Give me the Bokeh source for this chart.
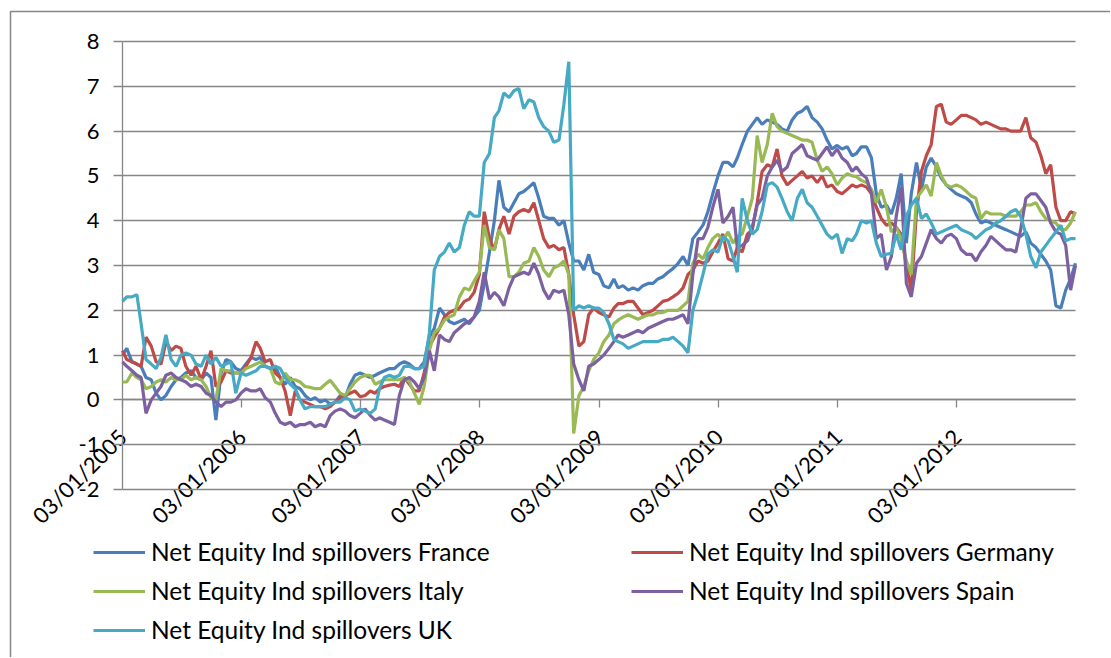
import datetime as dt
import numpy as np
from bokeh.plotting import figure
from bokeh.models import (ColumnDataSource, Range1d, FixedTicker, Legend, LegendItem,
                          BoxAnnotation)
from bokeh.embed import file_html
from bokeh.resources import INLINE

# ---------------- data (semi-monthly readings, 1st & 16th of each month) ----------------
YEARS = list(range(2005, 2013))
END_DATE = dt.datetime(2012, 12, 31)

tick_labels = ["03/01/2005", "03/01/2006", "03/01/2007", "03/01/2008",
               "03/01/2009", "03/01/2010", "03/01/2011", "03/01/2012"]
y_ticks = [-2, -1, 0, 1, 2, 3, 4, 5, 6, 7, 8]
y_tick_labels = ["-2", "-1", "0", "1", "2", "3", "4", "5", "6", "7", "8"]

series_names = ["Net Equity Ind spillovers France", "Net Equity Ind spillovers Germany",
                "Net Equity Ind spillovers Italy", "Net Equity Ind spillovers Spain",
                "Net Equity Ind spillovers UK"]

france = [
    1.0, 1.15, 0.85, 0.8, 0.75, 0.5, 0.45, 0.15, 0.0, 0.1, 0.3, 0.45, 0.5, 0.6, 0.65, 0.5, 0.45, 0.6, 0.5, -0.45, 0.6, 0.9, 0.85, 0.7,
    0.65, 0.8, 0.95, 0.9, 0.95, 0.75, 0.7, 0.75, 0.5, 0.35, 0.5, 0.3, 0.25, 0.1, 0.0, 0.05, -0.05, 0.0, -0.1, -0.05, 0.1, 0.05, 0.35, 0.55,
    0.6, 0.55, 0.5, 0.55, 0.6, 0.65, 0.7, 0.7, 0.8, 0.85, 0.8, 0.7, 0.7, 0.85, 1.4, 1.6, 2.05, 1.9, 1.75, 1.7, 1.75, 1.8, 1.7, 1.85,
    2.0, 2.6, 3.3, 4.0, 4.9, 4.3, 4.2, 4.4, 4.6, 4.65, 4.75, 4.85, 4.5, 4.1, 4.05, 4.05, 3.9, 4.0, 3.5, 3.1, 3.1, 2.9, 3.25, 2.85,
    2.8, 2.55, 2.5, 2.7, 2.5, 2.55, 2.45, 2.5, 2.45, 2.55, 2.6, 2.6, 2.7, 2.75, 2.85, 2.93, 3.05, 3.2, 3.0, 3.6, 3.75, 3.9, 4.2, 4.6,
    5.0, 5.3, 5.3, 5.2, 5.4, 5.7, 6.0, 6.15, 6.3, 6.15, 6.25, 6.2, 6.15, 6.05, 6.0, 6.25, 6.4, 6.45, 6.55, 6.3, 6.2, 6.05, 5.8, 5.6,
    5.68, 5.6, 5.65, 5.45, 5.5, 5.65, 5.65, 5.4, 4.6, 4.3, 4.35, 4.15, 4.5, 5.05, 3.5, 4.6, 5.3, 4.7, 5.2, 5.4, 5.2, 4.95, 4.8, 4.7,
    4.6, 4.55, 4.5, 4.4, 4.15, 3.95, 4.0, 3.95, 3.9, 3.85, 3.8, 3.75, 3.7, 3.65, 3.75, 3.5, 3.4, 3.25, 3.1, 2.9, 2.1, 2.05, 2.45, 2.7,
    3.05,
]

germany = [
    1.1, 0.9, 0.85, 0.8, 0.75, 1.4, 1.2, 0.85, 0.8, 1.3, 1.1, 1.2, 1.15, 0.75, 0.55, 0.75, 0.45, 0.75, 1.1, 0.3, 0.4, 0.65, 0.6, 0.6,
    0.6, 0.75, 0.95, 1.3, 1.15, 0.85, 0.9, 0.6, 0.5, 0.2, -0.35, 0.2, 0.0, -0.05, -0.1, -0.15, -0.15, -0.2, -0.15, -0.05, 0.05, 0.1, 0.15, 0.2,
    0.07, 0.1, 0.2, 0.15, 0.25, 0.3, 0.33, 0.35, 0.3, 0.5, 0.35, 0.2, 0.2, 0.6, 1.2, 1.4, 1.6, 1.85, 1.95, 2.0, 2.05, 2.2, 2.25, 2.4,
    2.8, 4.2, 3.6, 3.35, 3.8, 4.1, 3.7, 4.1, 4.2, 4.25, 4.2, 4.4, 4.0, 3.6, 3.4, 3.45, 3.35, 3.4, 2.8, 1.9, 1.2, 1.3, 1.9, 2.05,
    1.95, 1.9, 1.85, 2.05, 2.15, 2.15, 2.2, 2.2, 2.05, 1.9, 1.95, 2.0, 2.1, 2.2, 2.23, 2.3, 2.38, 2.5, 2.8, 2.9, 3.1, 3.05, 3.1, 3.3,
    3.5, 3.7, 3.15, 3.1, 3.4, 3.3, 3.7, 3.8, 4.4, 5.1, 5.25, 5.2, 5.6, 5.0, 4.8, 4.9, 5.0, 5.1, 4.95, 5.0, 4.85, 5.0, 4.75, 4.8,
    4.65, 4.6, 4.7, 4.8, 4.75, 4.8, 4.75, 4.6, 4.3, 4.05, 3.9, 3.95, 3.85, 3.7, 3.0, 2.45, 4.2, 5.1, 5.45, 5.7, 6.55, 6.6, 6.2, 6.15,
    6.25, 6.35, 6.35, 6.3, 6.25, 6.15, 6.2, 6.15, 6.1, 6.05, 6.05, 6.0, 6.0, 6.0, 6.3, 5.85, 5.75, 5.45, 5.05, 5.25, 4.3, 4.0, 4.0, 4.2,
    4.15,
]

italy = [
    0.4, 0.4, 0.6, 0.5, 0.45, 0.25, 0.3, 0.4, 0.45, 0.4, 0.5, 0.45, 0.45, 0.55, 0.45, 0.5, 0.45, 0.3, 0.05, 0.0, 0.7, 0.65, 0.65, 0.6,
    0.6, 0.7, 0.75, 0.8, 0.85, 0.75, 0.7, 0.4, 0.35, 0.6, 0.45, 0.45, 0.4, 0.3, 0.28, 0.25, 0.25, 0.35, 0.44, 0.3, 0.15, 0.1, 0.25, 0.4,
    0.5, 0.55, 0.55, 0.35, 0.4, 0.45, 0.45, 0.45, 0.45, 0.5, 0.4, 0.15, -0.1, 0.3, 1.1, 1.5, 1.6, 1.78, 1.85, 1.9, 2.3, 2.5, 2.45, 2.65,
    2.85, 3.9, 3.4, 3.35, 3.8, 3.6, 2.75, 2.75, 2.85, 3.05, 3.1, 3.4, 3.2, 2.9, 2.75, 2.95, 3.0, 3.1, 2.8, -0.75, 0.1, 0.3, 0.65, 0.9,
    1.05, 1.3, 1.45, 1.7, 1.78, 1.85, 1.9, 1.85, 1.8, 1.85, 1.9, 1.9, 1.95, 1.95, 2.0, 2.0, 2.0, 2.1, 2.2, 3.05, 3.25, 3.15, 3.4, 3.6,
    3.7, 3.55, 3.75, 3.5, 3.65, 3.7, 4.1, 4.5, 5.9, 5.3, 5.7, 6.4, 6.1, 6.0, 5.95, 5.9, 5.85, 5.8, 5.8, 5.75, 5.35, 5.1, 5.2, 5.05,
    4.8, 4.95, 5.05, 5.0, 4.98, 4.9, 4.85, 4.7, 4.4, 4.7, 4.3, 3.75, 3.85, 3.6, 3.1, 2.8, 4.5, 4.65, 4.8, 4.55, 5.3, 5.0, 4.8, 4.75,
    4.8, 4.75, 4.65, 4.55, 4.5, 4.05, 4.2, 4.15, 4.15, 4.15, 4.1, 4.1, 4.1, 4.2, 4.35, 4.35, 4.4, 4.2, 4.05, 4.0, 3.95, 3.8, 3.8, 3.95,
    4.2,
]

spain = [
    0.85, 0.75, 0.65, 0.55, 0.5, -0.3, 0.0, 0.15, 0.3, 0.55, 0.6, 0.5, 0.45, 0.4, 0.3, 0.35, 0.3, 0.15, 0.1, -0.05, -0.15, -0.05, -0.05, 0.0,
    0.15, 0.25, 0.2, 0.2, 0.25, 0.05, -0.05, -0.3, -0.5, -0.55, -0.5, -0.6, -0.55, -0.55, -0.5, -0.6, -0.55, -0.6, -0.35, -0.25, -0.2, -0.25, -0.35, -0.4,
    -0.3, -0.2, -0.35, -0.45, -0.4, -0.45, -0.5, -0.55, 0.1, 0.45, 0.5, 0.4, 0.25, 0.5, 1.1, 0.65, 1.45, 1.35, 1.3, 1.5, 1.6, 1.7, 1.75, 1.85,
    2.2, 2.85, 2.25, 2.4, 2.3, 2.1, 2.5, 2.75, 2.8, 2.85, 2.8, 3.05, 2.8, 2.45, 2.25, 2.45, 2.4, 2.45, 1.9, 0.8, 0.45, 0.2, 0.75, 0.8,
    0.9, 1.0, 1.15, 1.3, 1.45, 1.4, 1.45, 1.5, 1.55, 1.5, 1.6, 1.65, 1.7, 1.75, 1.8, 1.8, 1.85, 1.9, 1.7, 2.8, 3.6, 3.6, 3.85, 4.3,
    4.7, 3.95, 4.1, 4.3, 3.4, 3.45, 3.55, 3.85, 4.35, 4.5, 5.0, 5.2, 5.35, 5.1, 5.2, 5.5, 5.6, 5.7, 5.45, 5.4, 5.35, 5.5, 5.65, 5.45,
    5.6, 5.4, 5.3, 5.1, 5.2, 5.05, 4.95, 4.6, 3.6, 3.7, 2.9, 3.2, 4.1, 4.75, 2.6, 2.3, 3.05, 3.2, 3.5, 3.8, 3.6, 3.5, 3.65, 3.7,
    3.6, 3.35, 3.25, 3.25, 3.1, 3.3, 3.45, 3.65, 3.55, 3.45, 3.35, 3.35, 3.3, 3.8, 4.5, 4.6, 4.6, 4.45, 4.3, 3.95, 3.75, 3.7, 3.45, 2.45,
    3.0,
]

uk = [
    2.2, 2.3, 2.3, 2.35, 1.7, 0.9, 0.8, 0.7, 0.95, 1.45, 0.9, 0.75, 1.0, 1.05, 1.0, 0.8, 0.75, 1.0, 0.8, 0.95, 0.75, 0.8, 0.85, 0.15,
    0.6, 0.55, 0.6, 0.65, 0.75, 0.75, 0.7, 0.75, 0.7, 0.5, 0.35, 0.25, 0.0, -0.2, -0.15, -0.15, -0.15, -0.15, -0.1, -0.05, -0.05, 0.05, 0.0, -0.25,
    -0.2, -0.25, -0.3, -0.2, 0.25, 0.5, 0.55, 0.5, 0.55, 0.75, 0.75, 0.7, 0.7, 0.75, 1.5, 2.9, 3.2, 3.3, 3.5, 3.3, 3.4, 3.9, 4.2, 4.1,
    4.1, 5.3, 5.5, 6.3, 6.45, 6.85, 6.75, 6.9, 6.95, 6.5, 6.7, 6.65, 6.3, 6.1, 6.0, 5.75, 5.8, 6.6, 7.55, 2.0, 2.1, 2.05, 2.1, 2.05,
    2.05, 1.95, 1.7, 1.35, 1.3, 1.25, 1.15, 1.2, 1.25, 1.3, 1.3, 1.3, 1.3, 1.35, 1.35, 1.4, 1.3, 1.2, 1.05, 2.0, 2.38, 2.8, 3.25, 3.35,
    3.3, 3.65, 3.55, 3.2, 2.85, 4.5, 4.0, 3.7, 3.8, 4.2, 4.8, 4.85, 4.75, 4.5, 4.2, 4.0, 4.5, 4.7, 4.4, 4.3, 4.1, 3.9, 3.7, 3.6,
    3.7, 3.27, 3.6, 3.55, 3.7, 4.0, 3.95, 4.0, 3.5, 3.2, 3.25, 3.27, 3.7, 3.35, 4.1, 4.35, 4.5, 4.05, 4.15, 3.95, 3.7, 3.75, 3.8, 3.85,
    3.9, 3.8, 3.75, 3.7, 3.6, 3.7, 3.8, 3.85, 3.95, 4.0, 4.1, 4.2, 4.25, 4.1, 3.7, 3.2, 2.95, 3.3, 3.45, 3.6, 3.75, 3.9, 3.55, 3.6,
    3.6,
]

# observation dates: 1st and 16th of every month, first day 03/01/2005, last 31/12/2012
dates = []
for y in YEARS:
    for mth in range(1, 13):
        dates.append(dt.datetime(y, mth, 3 if (y == 2005 and mth == 1) else 1))
        dates.append(dt.datetime(y, mth, 16))
dates.append(END_DATE)

all_series = [france, germany, italy, spain, uk]
for s in all_series:
    if len(s) != len(dates):
        raise ValueError(f"length mismatch {len(s)} vs {len(dates)}")

colors = ["#4A7EBB", "#BE4B48", "#98B954", "#7D60A0", "#46AAC5"]

# ---------------- layout (pixels) ----------------
W, H = 1110, 657
PL, PR, PT, PB = 122, 1075, 41, 489          # plot area edges in the canvas
FONT = "Lato"
GRID = "#868686"
EPOCH = dt.datetime(1970, 1, 1)


def ms(d):
    return (d - EPOCH).total_seconds() * 1000.0


x0, x1 = ms(dates[0]), ms(dates[-1])
mpp = (x1 - x0) / (PR - PL)
ypp = (y_ticks[-1] - y_ticks[0]) / (PB - PT)
x_range = Range1d(x0 - PL * mpp, x1 + (W - PR) * mpp)
y_range = Range1d(y_ticks[0] - (H - PB) * ypp, y_ticks[-1] + PT * ypp)

tick_ms = [ms(dt.datetime(y, 1, 3)) for y in YEARS]

p = figure(x_axis_type="datetime", width=W, height=H, min_border=0,
           x_range=x_range, y_range=y_range,
           output_backend="svg", toolbar_location=None)
p.outline_line_color = None
p.background_fill_color = "white"
p.border_fill_color = "white"

# y axis (at the first date)
ya = p.yaxis[0]
ya.fixed_location = x0
ya.bounds = (y_ticks[0], y_ticks[-1])
ya.ticker = FixedTicker(ticks=y_ticks)
ya.major_label_overrides = {t: l for t, l in zip(y_ticks, y_tick_labels)}
ya.axis_line_color = GRID
ya.axis_line_width = 1.3
ya.major_tick_line_color = GRID
ya.major_tick_line_width = 1.3
ya.major_tick_out = 9
ya.major_tick_in = 0
ya.minor_tick_line_color = None
ya.major_label_standoff = 14
ya.major_label_text_font = FONT
ya.major_label_text_font_size = "22px"
ya.major_label_text_color = "black"
ya.level = "underlay"

# x axis crossing at 0
xa = p.xaxis[0]
xa.fixed_location = 0
xa.bounds = (x0, x1)
xa.ticker = FixedTicker(ticks=tick_ms)
xa.major_label_overrides = {t: l for t, l in zip(tick_ms, tick_labels)}
xa.major_label_orientation = np.pi / 4
xa.axis_line_color = GRID
xa.axis_line_width = 1.3
xa.major_tick_line_color = GRID
xa.major_tick_line_width = 1.3
xa.major_tick_out = 8
xa.major_tick_in = 0
xa.minor_tick_line_color = None
xa.major_label_text_font = FONT
xa.major_label_text_font_size = "22px"
xa.major_label_text_color = "black"
xa.major_label_standoff = 25
xa.level = "underlay"

# horizontal gridlines, limited to the plot area
p.xgrid.visible = False
grid_done = False
try:
    p.ygrid.cross_bounds = (x0, x1)
    p.ygrid.ticker = FixedTicker(ticks=y_ticks)
    p.ygrid.grid_line_color = GRID
    p.ygrid.grid_line_width = 1.3
    grid_done = True
except Exception:
    grid_done = False
if not grid_done:
    p.ygrid.visible = False
    p.multi_line(xs=[[dates[0], dates[-1]] for _ in y_ticks], ys=[[v, v] for v in y_ticks],
                 line_color=GRID, line_width=1.3, level="underlay")

items = {}
for name, vals, col in zip(series_names, all_series, colors):
    src = ColumnDataSource(dict(x=dates, y=vals))
    r = p.line("x", "y", source=src, line_color=col, line_width=3.2)
    items[name] = LegendItem(label=name, renderers=[r])

# legend fills column by column: France, Italy, UK | Germany, Spain
legend_order = [series_names[i] for i in (0, 2, 4, 1, 3)]
legend = Legend(items=[items[n] for n in legend_order], ncols=2, location=(93, 13),
                border_line_color=None, background_fill_alpha=0,
                padding=0, margin=0, spacing=10,
                glyph_width=52, glyph_height=20, label_height=20,
                label_standoff=6, label_width=470,
                label_text_font=FONT, label_text_font_size="24.5px",
                label_text_color="black")
p.add_layout(legend, "center")

# chart-area border (data units derived from the pixel frame)
p.add_layout(BoxAnnotation(left=x_range.start + 10 * mpp, right=x_range.end + 40 * mpp,
                           top=y_range.end - 11 * ypp, bottom=y_range.start - 40 * ypp,
                           fill_alpha=0, fill_color=None,
                           line_color=GRID, line_alpha=1.0, line_width=1.5))

open("out.html", "w").write(file_html(p, INLINE))
